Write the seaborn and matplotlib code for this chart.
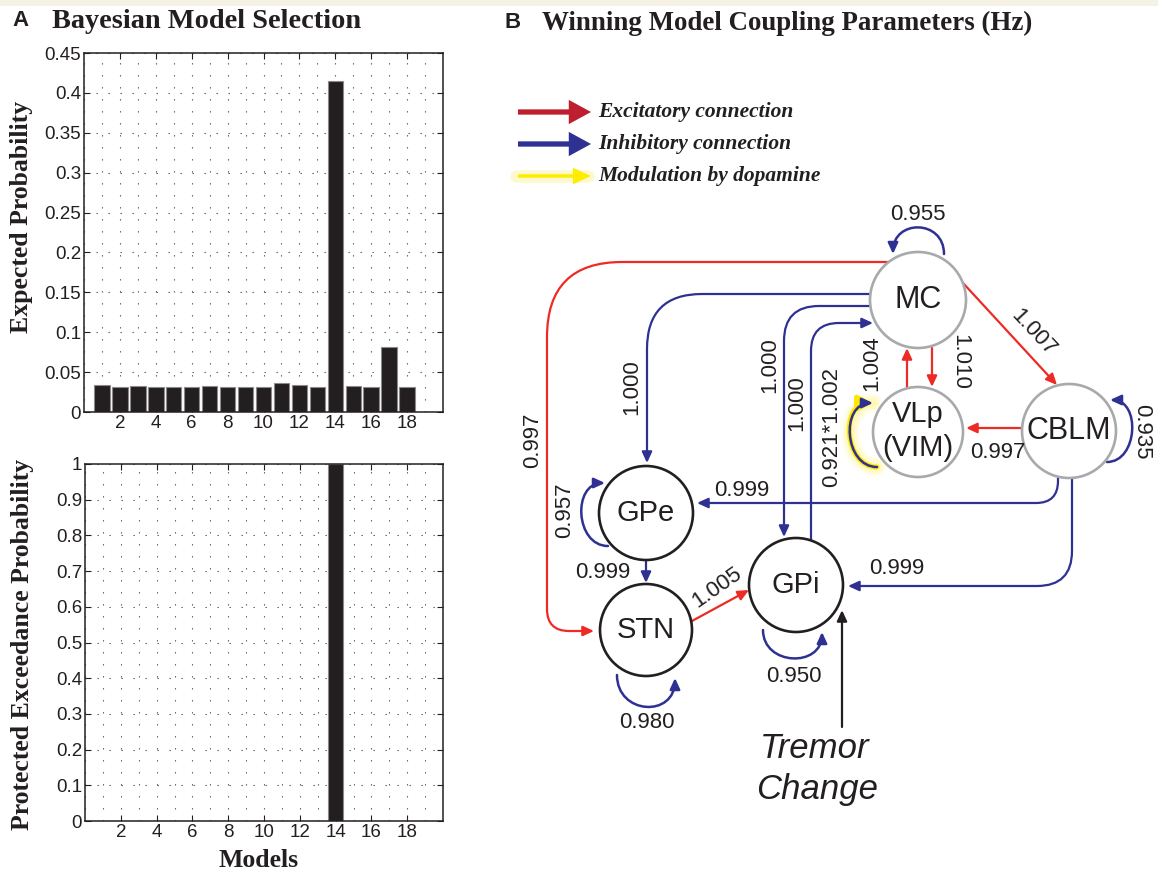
import numpy as np
import matplotlib
matplotlib.use("Agg")
import matplotlib.pyplot as plt
import seaborn as sns
from matplotlib.path import Path
from matplotlib.patches import FancyArrowPatch, Circle, Rectangle
from matplotlib.ticker import MultipleLocator

# ---------------- data ----------------
models = np.arange(1, 19)
expected_prob = [0.0337, 0.0310, 0.0320, 0.0310, 0.0315, 0.0310, 0.0322, 0.0310, 0.0313,
                 0.0310, 0.0367, 0.0337, 0.0315, 0.4146, 0.0320, 0.0315, 0.0817, 0.0310]
exceedance_prob = [0, 0, 0, 0, 0, 0, 0, 0, 0, 0, 0, 0, 0, 1.0, 0, 0, 0, 0]
x_ticks = [2, 4, 6, 8, 10, 12, 14, 16, 18]
top_yticks = [0, 0.05, 0.1, 0.15, 0.2, 0.25, 0.3, 0.35, 0.4, 0.45]
top_yticklabels = ['0', '0.05', '0.1', '0.15', '0.2', '0.25', '0.3', '0.35', '0.4', '0.45']
bot_yticks = [0, 0.1, 0.2, 0.3, 0.4, 0.5, 0.6, 0.7, 0.8, 0.9, 1.0]
bot_yticklabels = ['0', '0.1', '0.2', '0.3', '0.4', '0.5', '0.6', '0.7', '0.8', '0.9', '1']

connections = ['MC-STN', 'MC-GPe', 'MC-GPi', 'GPi-MC', 'VLp-MC', 'MC-VLp', 'MC-CBLM',
               'CBLM-VLp', 'CBLM-GPe', 'CBLM-GPi', 'GPe-STN', 'STN-GPi']
connection_values = ['0.997', '1.000', '1.000', '1.000', '1.004', '1.010', '1.007',
                     '0.997', '0.999', '0.999', '0.999', '1.005']
self_nodes = ['MC', 'VLp', 'CBLM', 'GPe', 'STN', 'GPi']
self_values = ['0.955', '0.921*1.002', '0.935', '0.957', '0.980', '0.950']
legend_labels = ['Excitatory connection', 'Inhibitory connection', 'Modulation by dopamine']

# ---------------- style ----------------
SANS = 'Liberation Sans'
SERIF = 'Liberation Serif'
plt.rcParams['font.family'] = [SANS, 'DejaVu Sans']
INK = '#231f20'
RED = '#ee2a24'
BLUE = '#2e3192'
GRAYC = '#a7a9ac'

W, H = 1158, 874
fig = plt.figure(figsize=(W / 100, H / 100), dpi=100)
fig.patch.set_facecolor('white')


def fig_rect(l, t, r, b):
    return [l / W, 1 - b / H, (r - l) / W, (b - t) / H]


ax1 = fig.add_axes(fig_rect(84, 53, 443, 412))
ax2 = fig.add_axes(fig_rect(85, 464, 443, 821))

for ax, vals in ((ax1, expected_prob), (ax2, exceedance_prob)):
    sns.barplot(x=models, y=vals, native_scale=True, color=INK, saturation=1,
                edgecolor='#8a8a8a', linewidth=0.8, width=0.86, ax=ax, zorder=2)


def style_axes(ax, yt, ytl, ymax):
    ax.set_xlim(0, 20)
    ax.set_ylim(0, ymax)
    ax.set_xticks(x_ticks)
    ax.set_xticklabels([str(t) for t in x_ticks])
    ax.xaxis.set_minor_locator(MultipleLocator(1))
    ax.set_yticks(yt)
    ax.set_yticklabels(ytl)
    ax.set_facecolor('white')
    dots = (0, (1.2, 9.6))
    ax.grid(True, which='major', axis='y', linestyle=dots, linewidth=0.8, color='#555555')
    ax.grid(True, which='both', axis='x', linestyle=dots, linewidth=0.8, color='#555555')
    ax.set_axisbelow(True)
    ax.tick_params(which='major', direction='in', length=4, width=0.8, top=True, right=True,
                   labelsize=13.5, pad=2, colors=INK)
    ax.tick_params(which='minor', length=0)
    for s in ax.spines.values():
        s.set_linewidth(1.1)
        s.set_color(INK)
    ax.set_xlabel('')
    ax.set_ylabel('')


style_axes(ax1, top_yticks, top_yticklabels, 0.45)
style_axes(ax2, bot_yticks, bot_yticklabels, 1.0)

lab_kw = dict(fontfamily=SERIF, fontweight='bold', fontsize=18.5, color=INK)
ax1.set_ylabel('Expected Probability', **lab_kw)
ax1.yaxis.set_label_coords(-0.142, 0.543)
ax2.set_ylabel('Protected Exceedance Probability', **lab_kw)
ax2.yaxis.set_label_coords(-0.142, 0.494)
ax2.set_xlabel('Models', **lab_kw)
ax2.xaxis.set_label_coords(0.485, -0.078)

# ---------------- diagram overlay ----------------
dax = fig.add_axes([0, 0, 1, 1])
dax.set_xlim(0, W)
dax.set_ylim(H, 0)
dax.axis('off')
dax.patch.set_alpha(0)

dax.add_patch(Rectangle((0, 0), W, 6, color='#f6f2e3', zorder=0, lw=0))

# panel titles
dax.text(12, 21, 'A', fontfamily=SANS, fontweight='bold', fontsize=16, color=INK, va='center', ha='left')
dax.text(52, 21, 'Bayesian Model Selection', fontfamily=SERIF, fontweight='bold', fontsize=20.4,
         color=INK, va='center', ha='left')
dax.text(504, 23, 'B', fontfamily=SANS, fontweight='bold', fontsize=16, color=INK, va='center', ha='left')
dax.text(542, 23, 'Winning Model Coupling Parameters (Hz)', fontfamily=SERIF, fontweight='bold',
         fontsize=19.4, color=INK, va='center', ha='left')

# legend
leg_y = [112, 144, 176]
leg_colors = ['#be1e2d', BLUE, '#ffec00']
for i, (yy, col, txt) in enumerate(zip(leg_y, leg_colors, legend_labels)):
    if i < 2:
        st = 'simple,head_length=1.6,head_width=1.75,tail_width=0.38'
        dax.add_patch(FancyArrowPatch((518, yy), (591, yy), arrowstyle=st, mutation_scale=10,
                                      color=col, lw=0, shrinkA=0, shrinkB=0, zorder=3))
    else:
        dax.plot([516, 588], [yy, yy], color='#fdf6b0', lw=9, alpha=0.6, solid_capstyle='round', zorder=2)
        st = 'simple,head_length=1.3,head_width=1.2,tail_width=0.25'
        dax.add_patch(FancyArrowPatch((518, yy), (591, yy), arrowstyle=st, mutation_scale=10,
                                      color=col, lw=0, shrinkA=0, shrinkB=0, zorder=3))
    dax.text(598, yy, txt, fontfamily=SERIF, fontweight='bold', fontstyle='italic', fontsize=15.5,
             color=INK, va='center', ha='left')

# nodes (layout)
node_layout = {
    'MC': (918, 300, 48, GRAYC), 'VLp': (918, 432, 45, GRAYC), 'CBLM': (1069, 431, 47, GRAYC),
    'GPe': (646, 513, 47, INK), 'STN': (646, 630, 46, INK), 'GPi': (796, 585, 47, INK),
}
for name, (cx, cy, r, ec) in node_layout.items():
    dax.add_patch(Circle((cx, cy), r, facecolor='white', edgecolor=ec, lw=1.9, zorder=4))

node_text = {'MC': ('MC', 22), 'CBLM': ('CBLM', 22), 'GPe': ('GPe', 21), 'STN': ('STN', 21), 'GPi': ('GPi', 21)}
for name, (txt, fs) in node_text.items():
    cx, cy = node_layout[name][:2]
    dax.text(cx, cy, txt, fontsize=fs, color=INK, ha='center', va='center', zorder=6)
dax.text(918, 414, 'VLp', fontsize=21, color=INK, ha='center', va='center', zorder=6)
dax.text(918, 448, '(VIM)', fontsize=21, color=INK, ha='center', va='center', zorder=6)

HEAD = '-|>,head_length=0.65,head_width=0.3'


def rounded_path(points, radii):
    pts = [np.asarray(p, float) for p in points]
    verts = [pts[0]]
    codes = [Path.MOVETO]
    for i in range(1, len(pts) - 1):
        r = radii[i - 1]
        din = (pts[i] - pts[i - 1]) / np.linalg.norm(pts[i] - pts[i - 1])
        dout = (pts[i + 1] - pts[i]) / np.linalg.norm(pts[i + 1] - pts[i])
        verts += [pts[i] - din * r, pts[i], pts[i] + dout * r]
        codes += [Path.LINETO, Path.CURVE3, Path.CURVE3]
    verts.append(pts[-1])
    codes.append(Path.LINETO)
    return Path(np.array(verts), codes)


def loop_path(start, end, normal, k):
    s = np.asarray(start, float)
    e = np.asarray(end, float)
    n = np.asarray(normal, float)
    return Path(np.array([s, s + k * n, e + k * n, e]),
                [Path.MOVETO, Path.CURVE4, Path.CURVE4, Path.CURVE4])


def draw_path(path, color, lw=1.6, z=3):
    dax.add_patch(FancyArrowPatch(path=path, arrowstyle=HEAD, mutation_scale=10,
                                  color=color, lw=lw, zorder=z))


def edge_label(x, y, txt, rot=0):
    dax.text(x, y, txt, fontsize=16, color=INK, ha='center', va='center', rotation=rot,
             rotation_mode='anchor', zorder=7)


edge_layout = {
    'MC-STN': ([(889, 262), (547, 262), (547, 631), (594, 631)], [75, 22], RED, (533, 440), 90),
    'MC-GPe': ([(871, 294), (647, 294), (647, 463)], [55], BLUE, (632, 387), 90),
    'MC-GPi': ([(870, 306), (784, 306), (784, 537)], [35], BLUE, (770, 365), 90),
    'GPi-MC': ([(811, 541), (811, 323), (873, 323)], [28], BLUE, (797, 403), 90),
    'VLp-MC': ([(907, 388), (907, 348)], [], RED, (872, 363), 90),
    'MC-VLp': ([(932, 348), (932, 387)], [], RED, (960, 362), -90),
    'MC-CBLM': ([(963, 283), (1057, 385)], [], RED, (1033, 333), -47),
    'CBLM-VLp': ([(1022, 428), (966, 428)], [], RED, (998, 453), 0),
    'CBLM-GPe': ([(1058, 478), (1058, 503), (697, 503)], [22], BLUE, (742, 491), 0),
    'CBLM-GPi': ([(1072, 478), (1072, 586), (848, 586)], [35], BLUE, (897, 568), 0),
    'GPe-STN': ([(646, 560), (646, 583)], [], BLUE, (603, 573), 0),
    'STN-GPi': ([(692, 621), (749, 590)], [], RED, (717, 588), 35),
}
for name, val in zip(connections, connection_values):
    pts, radii, col, (lx, ly), rot = edge_layout[name]
    draw_path(rounded_path(pts, radii), col)
    edge_label(lx, ly, val, rot)

loop_layout = {
    'MC': ((944, 254), (893, 254), (0, -1), 35, (918, 215), 0),
    'VLp': ((877, 467), (873, 403), (-1, 0), 33, (832, 427), 90),
    'CBLM': ((1107, 462), (1110, 400), (1, 0), 31, (1142, 432), -90),
    'GPe': ((608, 546), (605, 483), (-1, 0), 33, (565, 510), 90),
    'STN': ((617, 675), (675, 678), (0, 1), 40, (647, 722), 0),
    'GPi': ((763, 630), (822, 632), (0, 1), 36, (794, 676), 0),
}
for name, val in zip(self_nodes, self_values):
    s, e, n, k, (lx, ly), rot = loop_layout[name]
    p = loop_path(s, e, n, k)
    if name == 'VLp':
        for lw, a in ((14, 0.12), (10, 0.2), (6, 0.35)):
            dax.add_patch(FancyArrowPatch(path=p, arrowstyle='-', color='#fff27a', lw=lw, alpha=a, zorder=2))
        dax.add_patch(FancyArrowPatch(path=p, arrowstyle='-|>,head_length=0.8,head_width=0.42',
                                      mutation_scale=10, color='#ffe800', lw=3.6, zorder=2.5))
    draw_path(p, BLUE, lw=1.8)
    edge_label(lx, ly, val, rot)

# tremor input
draw_path(rounded_path([(842, 727), (842, 610)], []), INK, lw=1.6)
dax.text(815, 748, 'Tremor', fontsize=25, fontstyle='italic', color=INK, ha='center', va='center')
dax.text(817, 789, 'Change', fontsize=25, fontstyle='italic', color=INK, ha='center', va='center')

fig.savefig('out.png', dpi=100, facecolor='white')
